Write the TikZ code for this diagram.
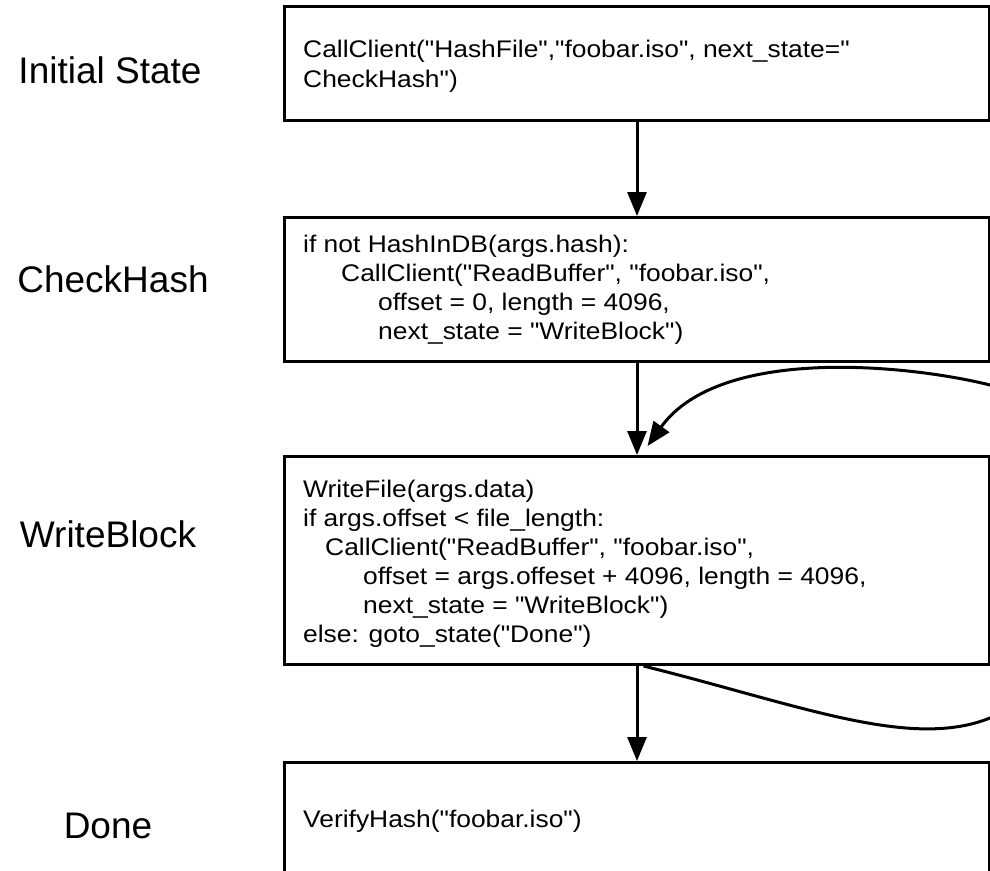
\documentclass[tikz,border=0pt]{standalone}
\usepackage{fontspec}
\setmainfont{Liberation Sans}
\newfontfamily\codefont[FakeStretch=1.1]{Liberation Sans}
\usetikzlibrary{arrows.meta}
\tikzset{
  box/.style={draw=black, line width=3pt, rectangle, inner sep=0pt, anchor=north west, minimum width=705pt},
  arr/.style={draw=black, line width=3pt, -{Triangle[width=19pt,length=24pt]}},
  code/.style={inner sep=0pt, anchor=base west, font=\codefont\fontsize{24}{29}\selectfont},
  lbl/.style={inner sep=0pt, anchor=base, font=\fontsize{37}{42}\selectfont}
}
\begin{document}
\begin{tikzpicture}[x=1pt,y=-1pt]
\useasboundingbox (0,0) rectangle (990,870);
\clip (0,0) rectangle (990,870);
\fill[white] (0,0) rectangle (990,870);
% boxes
\node[box, minimum height=114pt] (b1) at (283,5) {};
\node[box, minimum height=144pt] (b2) at (283,216) {};
\node[box, minimum height=208pt] (b3) at (283,455) {};
\node[box, minimum height=139pt] (b4) at (283,761) {};
% box texts
\node[code] (t1) at (303,57) {\vtop{\baselineskip=30pt
  \hbox{CallClient("HashFile","foobar.iso", next\_state="}
  \hbox{CheckHash")}}};
\node[code] (t2) at (303,252) {\vtop{\baselineskip=29pt
  \hbox{if not HashInDB(args.hash):}
  \hbox{\hspace*{38pt}CallClient("ReadBuffer", "foobar.iso",}
  \hbox{\hspace*{75pt}offset = 0, length = 4096,}
  \hbox{\hspace*{75pt}next\_state = "WriteBlock")}}};
\node[code] (t3) at (303,497) {\vtop{\baselineskip=29pt
  \hbox{WriteFile(args.data)}
  \hbox{if args.offset < file\_length:}
  \hbox{\hspace*{22pt}CallClient("ReadBuffer", "foobar.iso",}
  \hbox{\hspace*{60pt}offset = args.offeset + 4096, length = 4096,}
  \hbox{\hspace*{60pt}next\_state = "WriteBlock")}
  \hbox{else: goto\_state("Done")}}};
\node[code] (t4) at (303,827) {VerifyHash("foobar.iso")};
% labels
\node[lbl] (l1) at (110,83) {Initial State};
\node[lbl] (l2) at (113,292) {CheckHash};
\node[lbl] (l3) at (108,547) {WriteBlock};
\node[lbl] (l4) at (108,838) {Done};
% arrows
\draw[arr] (b1.south) -- (b2.north);
\draw[arr] (b2.south) -- (b3.north);
\draw[arr] (b3.south) -- (b4.north);
\draw[arr] ([xshift=6.5pt]b3.south)
  .. controls (800,705) and (910,750) .. (990,718)
  .. controls (1070,686) and (1070,412) .. (990,385)
  .. controls (910,365) and (720,345) .. ([xshift=10.5pt,yshift=9pt]b3.north);
\end{tikzpicture}
\end{document}
